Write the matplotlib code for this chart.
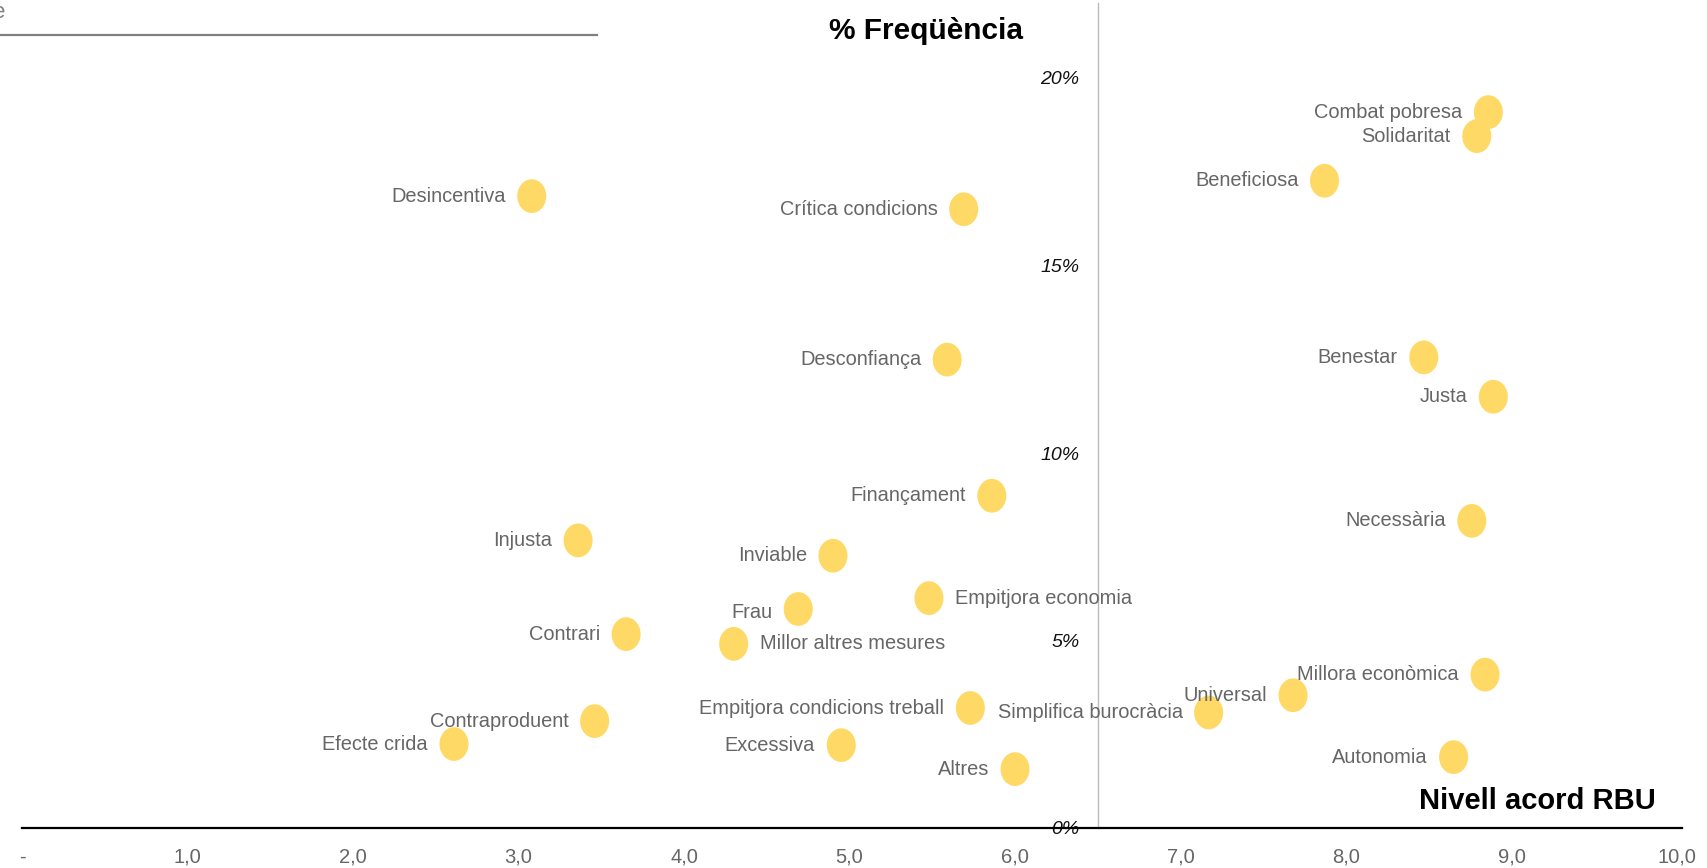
import numpy as np
import matplotlib.pyplot as plt
from matplotlib.path import Path

# Data
labels = ['Combat pobresa', 'Solidaritat', 'Beneficiosa', 'Desincentiva', 'Crítica condicions',
          'Desconfiança', 'Benestar', 'Justa', 'Finançament', 'Necessària', 'Injusta',
          'Inviable', 'Empitjora economia', 'Frau', 'Contrari', 'Millor altres mesures',
          'Millora econòmica', 'Universal', 'Empitjora condicions treball',
          'Simplifica burocràcia', 'Contraproduent', 'Efecte crida', 'Excessiva',
          'Autonomia', 'Altres']
acord = [8.86, 8.79, 7.87, 3.08, 5.69, 5.59, 8.47, 8.89, 5.86, 8.76, 3.36, 4.90, 5.48,
         4.69, 3.65, 4.30, 8.84, 7.68, 5.73, 7.17, 3.46, 2.61, 4.95, 8.65, 6.00]
freq = [19.09, 18.45, 17.26, 16.85, 16.50, 12.49, 12.55, 11.50, 8.86, 8.19, 7.67, 7.26,
        6.13, 5.84, 5.17, 4.91, 4.09, 3.54, 3.20, 3.08, 2.85, 2.24, 2.21, 1.89, 1.57]
right_side = ['Empitjora economia', 'Millor altres mesures']

x_ticks = list(range(11))
x_ticklabels = ['-'] + ['%d,0' % v for v in range(1, 11)]
y_ticks = [0, 5, 10, 15, 20]
y_ticklabels = ['%d%%' % v for v in y_ticks]

plt.rcParams['font.family'] = ['Liberation Sans', 'DejaVu Sans']

fig = plt.figure(figsize=(17.08, 8.68), dpi=100)
ax = fig.add_axes([22 / 1708, 1 - 828 / 868, 1660 / 1708, 825 / 868])

# slightly tall ellipse marker
t = np.linspace(0, 2 * np.pi, 60)
ell = Path(np.column_stack([0.86 * np.cos(t), np.sin(t)]), closed=True)

ax.scatter(acord, freq, s=590, marker=ell, color='#FFD966', edgecolors='none', zorder=3)

for lab, x, y in zip(labels, acord, freq):
    if lab in right_side:
        off, ha = 26, 'left'
    else:
        off, ha = -26, 'right'
    dy = -3 if lab == 'Frau' else 0
    ax.annotate(lab, (x, y), xytext=(off, dy), textcoords='offset pixels', ha=ha,
                va='center', fontsize=14.4, color='#666666', zorder=4)

ax.set_xlim(0, 10.03)
ax.set_ylim(0, 22)

for s in ['top', 'right']:
    ax.spines[s].set_visible(False)
ax.spines['bottom'].set_position(('data', 0))
ax.spines['bottom'].set_linewidth(1.6)
ax.spines['bottom'].set_color('black')
ax.spines['left'].set_position(('data', 6.5))
ax.spines['left'].set_color('#bbbbbb')
ax.spines['left'].set_linewidth(1.0)

ax.set_xticks(x_ticks)
ax.set_xticklabels(x_ticklabels, fontsize=14.5, color='#666666')
ax.set_yticks(y_ticks)
ax.set_yticklabels(y_ticklabels, fontsize=14, style='italic', color='#111111')
ax.tick_params(axis='x', length=0, pad=14)
ax.tick_params(axis='y', length=0, pad=13)

fig.text(926 / 1708, 1 - 31 / 868, '% Freqüència', ha='center', va='center',
         fontsize=21.5, fontweight='bold', color='black')
fig.text(1656 / 1708, 1 - 801 / 868, 'Nivell acord RBU', ha='right', va='center',
         fontsize=21, fontweight='bold', color='black')

# cut-off heading at top left
fig.add_artist(plt.Line2D([0, 597 / 1708], [1 - 35 / 868] * 2, color='#808080', lw=1.6))
fig.text(-0.004, 1 - 12 / 868, 'e', ha='left', va='center', fontsize=16, color='#808080')

fig.savefig('out.png', dpi=100)
